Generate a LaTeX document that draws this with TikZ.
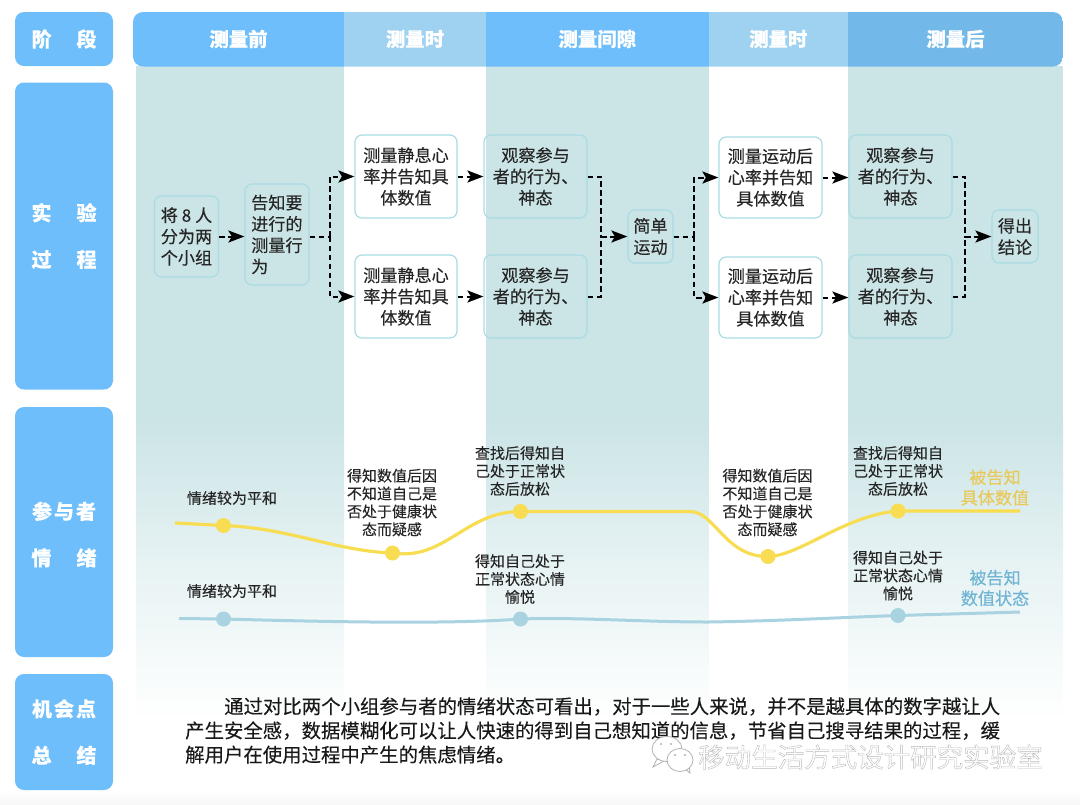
\documentclass[tikz,border=0pt]{standalone}
\usepackage{fontspec}
\setmainfont{Noto Sans CJK SC}[FakeBold=0.2]
\newfontfamily\wmfont{Noto Sans CJK SC}
\usetikzlibrary{arrows.meta}

\definecolor{stageblue}{HTML}{6DBEFB}
\definecolor{stagepale}{HTML}{9FD2F1}
\definecolor{stagedark}{HTML}{72B8E8}
\definecolor{bandteal}{HTML}{CBE4E6}
\definecolor{boxline}{HTML}{A9DCE4}
\definecolor{moodyellow}{HTML}{F8DD52}
\definecolor{moodblue}{HTML}{A9D3E0}
\definecolor{keyyellow}{HTML}{E8C95A}
\definecolor{keyblue}{HTML}{6FB4D4}

\newcommand{\wmstart}{\special{pdf:code q 1 Tr 0.4 w 0.72 G}}
\newcommand{\wmstop}{\special{pdf:code Q}}

\tikzstyle{stage} = [rectangle, rounded corners=9pt, fill=stageblue, text=white, minimum width=98pt, align=center, inner sep=0pt, font=\bfseries\fontsize{20}{46.5}\selectfont]
\tikzstyle{head} = [rectangle, text=white, minimum height=55pt, inner sep=0pt, font=\bfseries\fontsize{19.4}{23}\selectfont]
\tikzstyle{step1} = [rectangle, rounded corners=7pt, draw=boxline, line width=1.2pt, inner sep=0pt, align=center, text=black!85, font=\fontsize{17.1}{21.3}\selectfont]
\tikzstyle{step2} = [step1, fill=white]
\tikzstyle{go} = [dash pattern=on 5.5pt off 3.5pt, line width=2pt, -{Stealth[length=16pt,width=12pt,inset=3.5pt]}]
\tikzstyle{gomerge} = [dash pattern=on 5.5pt off 3.5pt, line width=2pt]
\tikzstyle{note} = [inner sep=0pt, align=center, text=black!85, font=\fontsize{15}{17.9}\selectfont]
\tikzstyle{key} = [inner sep=0pt, align=center, font=\fontsize{17.1}{20.6}\selectfont]
\tikzstyle{dot} = [circle, minimum size=15pt, inner sep=0pt]

\begin{document}
\begin{tikzpicture}[x=1pt, y=-1pt]
    \useasboundingbox (0, 0) rectangle (1080, 804);

    \shade[top color=white, bottom color=black!3] (0, 790) rectangle (1080, 804);
    \fill[bandteal] (136, 66) rectangle (344, 420);
    \fill[bandteal] (486, 66) rectangle (708.5, 420);
    \fill[bandteal] (848, 66) rectangle (1063, 420);
    \shade[top color=bandteal, bottom color=white, middle color=bandteal!45] (136, 420) rectangle (344, 722);
    \shade[top color=bandteal, bottom color=white, middle color=bandteal!45] (486, 420) rectangle (708.5, 722);
    \shade[top color=bandteal, bottom color=white, middle color=bandteal!45] (848, 420) rectangle (1063, 722);

    \node[stage, minimum height=54pt] (S1) at (64, 39) {阶\hspace{25pt}段};
    \node[stage, minimum height=307pt] (S2) at (64, 236) {实\hspace{25pt}验\\过\hspace{25pt}程};
    \node[stage, minimum height=250pt, label={[text=white, align=center, inner sep=0pt, font=\bfseries\fontsize{20}{46.5}\selectfont, yshift=-2.5pt]center:参\hspace{2pt}与\hspace{2pt}者\\情\hspace{25pt}绪}] (S3) at (64, 532) {};
    \node[stage, minimum height=116pt] (S4) at (64, 732) {机\hspace{2pt}会\hspace{2pt}点\\总\hspace{25pt}结};

    \begin{scope}
        \clip[rounded corners=10pt] (133, 12) rectangle (1063, 66.5);
        \node[head, fill=stageblue, minimum width=211pt] (H1) at (238.5, 39) {测量前};
        \node[head, fill=stagepale, minimum width=142pt] (H2) at (415, 39) {测量时};
        \node[head, fill=stageblue, minimum width=222.5pt] (H3) at (597.25, 39) {测量间隙};
        \node[head, fill=stagepale, minimum width=139.5pt] (H4) at (778.25, 39) {测量时};
        \node[head, fill=stagedark, minimum width=215pt] (H5) at (955.5, 39) {测量后};
    \end{scope}

    \node[step1, minimum width=64pt, minimum height=81pt] (A) at (186.5, 236.5) {将 8 人\\分为两\\个小组};
    \node[step1, minimum width=64pt, minimum height=101pt] (B) at (277, 234.5) {\parbox{51.5pt}{告知要\\进行的\\测量行\\为}};
    \node[step2, minimum width=102pt, minimum height=83pt] (C1) at (406, 176.5) {测量静息心\\率并告知具\\体数值};
    \node[step2, minimum width=102pt, minimum height=83pt] (C2) at (406, 296.5) {测量静息心\\率并告知具\\体数值};
    \node[step1, minimum width=103pt, minimum height=83pt] (D1) at (535.5, 176.5) {观察参与\\者的行为、\\神态};
    \node[step1, minimum width=103pt, minimum height=83pt] (D2) at (535.5, 296.5) {观察参与\\者的行为、\\神态};
    \node[step1, minimum width=45pt, minimum height=53pt] (E) at (650.5, 236.5) {简单\\运动};
    \node[step2, minimum width=103pt, minimum height=81pt] (F1) at (770.5, 177.5) {测量运动后\\心率并告知\\具体数值};
    \node[step2, minimum width=103pt, minimum height=81pt] (F2) at (770.5, 297.5) {测量运动后\\心率并告知\\具体数值};
    \node[step1, minimum width=103pt, minimum height=83pt] (G1) at (900.5, 176.5) {观察参与\\者的行为、\\神态};
    \node[step1, minimum width=103pt, minimum height=83pt] (G2) at (900.5, 296.5) {观察参与\\者的行为、\\神态};
    \node[step1, minimum width=46pt, minimum height=53pt] (K) at (1015, 236.5) {得出\\结论};

    \coordinate (J1) at (329.5, 236.5);
    \coordinate (J2) at (601, 236.5);
    \coordinate (J3) at (694, 236.5);
    \coordinate (J4) at (965, 236.5);

    \draw[go] (A.east) -- (B.west |- A.east);
    \draw[gomerge] (B.east |- J1) -- (J1);
    \draw[go] (J1) |- (C1.west);
    \draw[go] (J1) |- (C2.west);
    \draw[go] (C1.east) -- (D1.west);
    \draw[go] (C2.east) -- (D2.west);
    \draw[gomerge] (D1.east) -| (J2);
    \draw[gomerge] (D2.east) -| (J2);
    \draw[go] (J2) -- (E.west);
    \draw[gomerge] (E.east) -- (J3);
    \draw[go] (J3) |- (F1.west);
    \draw[go] (J3) |- (F2.west);
    \draw[go] (F1.east) -- (G1.west |- F1.east);
    \draw[go] (F2.east) -- (G2.west |- F2.east);
    \draw[gomerge] (G1.east) -| (J4);
    \draw[gomerge] (G2.east) -| (J4);
    \draw[go] (J4) -- (K.west);

    \coordinate (Y0) at (175, 523);
    \coordinate (Y1) at (1020, 511);
    \coordinate (L0) at (179, 618.5);
    \coordinate (L1) at (1020, 612);
    \node[dot, fill=moodyellow] (P1) at (223.5, 525.5) {};
    \node[dot, fill=moodyellow] (P2) at (392.5, 553) {};
    \node[dot, fill=moodyellow] (P3) at (520.5, 511.5) {};
    \node[dot, fill=moodyellow] (P4) at (768, 556.5) {};
    \node[dot, fill=moodyellow] (P5) at (898, 511) {};
    \node[dot, fill=moodblue] (Q1) at (223.5, 619) {};
    \node[dot, fill=moodblue] (Q2) at (520.5, 619) {};
    \node[dot, fill=moodblue] (Q3) at (898, 615.5) {};

    \draw[moodyellow, line width=3.2pt] (Y0) -- (P1.center) .. controls (290, 528) and (335, 551) .. (P2.center) .. controls (445, 561) and (465, 511.5) .. (P3.center) -- (690, 511.5) .. controls (715, 511.5) and (725, 557) .. (P4.center) .. controls (800, 556) and (845, 515) .. (P5.center) -- (Y1);
    \draw[moodblue, line width=3pt] (L0) -- (Q1.center) .. controls (300, 621) and (440, 625) .. (Q2.center) .. controls (580, 617) and (640, 622) .. (708, 622) .. controls (780, 621) and (850, 617) .. (Q3.center) -- (L1);

    \node[note] (T1) at (232, 498) {情绪较为平和};
    \node[note] (T2) at (392, 502.5) {得知数值后因\\不知道自己是\\否处于健康状\\态而疑感};
    \node[note] (T3) at (520, 471) {查找后得知自\\己处于正常状\\态后放松};
    \node[note] (T4) at (767.5, 502.5) {得知数值后因\\不知道自己是\\否处于健康状\\态而疑感};
    \node[note] (T5) at (898, 471) {查找后得知自\\己处于正常状\\态后放松};
    \node[note] (T6) at (232, 591) {情绪较为平和};
    \node[note] (T7) at (520, 579) {得知自己处于\\正常状态心情\\愉悦};
    \node[note] (T8) at (898, 575.5) {得知自己处于\\正常状态心情\\愉悦};
    \node[key, text=keyyellow] (K1) at (995, 487.5) {被告知\\具体数值};
    \node[key, text=keyblue] (K2) at (995, 588) {被告知\\数值状态};

    \node[inner sep=0pt, anchor=north west, text width=815pt, align=left, text=black!90, font=\fontsize{19.4}{24.2}\selectfont] (R) at (185, 697) {\hspace*{39pt}通过对比两个小组参与者的情绪状态可看出，对于一些人来说，并不是越具体的数字越让人\\产生安全感，数据模糊化可以让人快速的得到自己想知道的信息，节省自己搜寻结果的过程，缓\\解用户在使用过程中产生的焦虑情绪。};

    \filldraw[fill=white, draw=black!30, line width=0.8pt] (657, 759) -- (653, 767) -- (664, 761) -- cycle;
    \filldraw[fill=white, draw=black!30, line width=0.8pt] (667, 749) ellipse [x radius=15, y radius=12.5];
    \filldraw[fill=white, draw=black!30, line width=0.8pt] (685, 769) -- (690, 773) -- (689, 766) -- cycle;
    \filldraw[fill=white, draw=black!30, line width=0.8pt] (680, 760) ellipse [x radius=13, y radius=11.5];
    \fill[black!30] (661, 744) circle (1.2) (671, 744) circle (1.2) (675, 755) circle (1.2) (685, 755) circle (1.2);
    \node[inner sep=0pt, anchor=west, font=\wmfont\fontsize{26.5}{30}\selectfont] (W) at (698, 757) {\wmstart 移动生活方式设计研究实验室\wmstop};
\end{tikzpicture}
\end{document}
